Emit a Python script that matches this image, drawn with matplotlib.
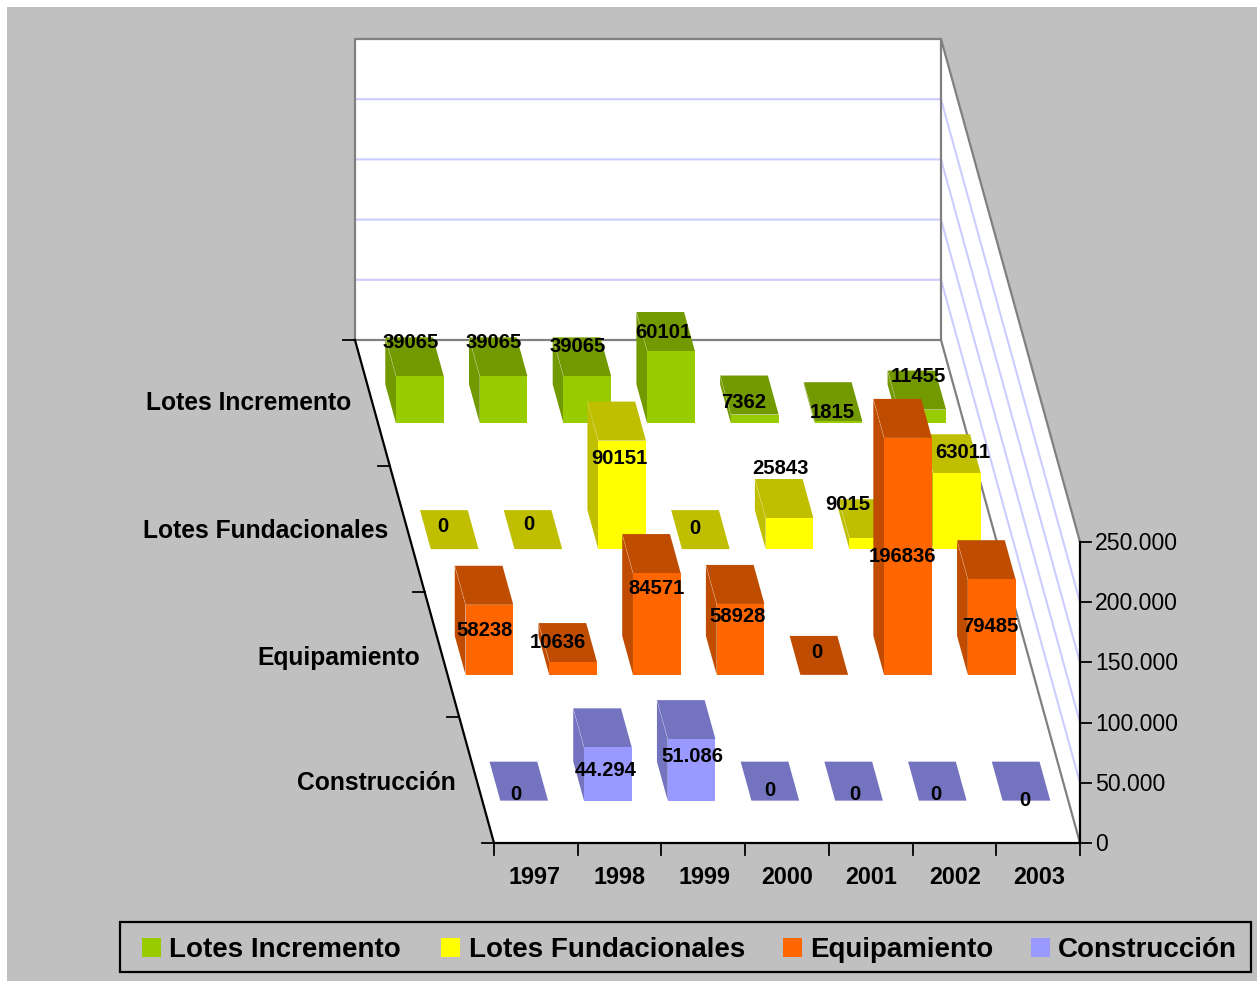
"""Oblique 3D column chart: inversion by year and concept."""
import matplotlib
matplotlib.use("Agg")
import matplotlib.pyplot as plt
from matplotlib.patches import Polygon, Rectangle

YEARS = ["1997", "1998", "1999", "2000", "2001", "2002", "2003"]
SERIES = ["Lotes Incremento", "Lotes Fundacionales", "Equipamiento", "Construcción"]

lotes_incremento = [39065, 39065, 39065, 60101, 7362, 1815, 11455]
lotes_fundacionales = [0, 0, 90151, 0, 25843, 9015, 63011]
equipamiento = [58238, 10636, 84571, 58928, 0, 196836, 79485]
construccion = [0, 44294, 51086, 0, 0, 0, 0]
VALUES = [lotes_incremento, lotes_fundacionales, equipamiento, construccion]

# text of the value labels, as printed on the chart
LABELS = [
    ["39065", "39065", "39065", "60101", "7362", "1815", "11455"],
    ["0", "0", "90151", "0", "25843", "9015", "63011"],
    ["58238", "10636", "84571", "58928", "0", "196836", "79485"],
    ["0", "44.294", "51.086", "0", "0", "0", "0"],
]
VALUE_TICKS = [0, 50000, 100000, 150000, 200000, 250000]
VALUE_TICK_LABELS = ["0", "50.000", "100.000", "150.000", "200.000", "250.000"]

FRONT = ["#99CC00", "#FFFF00", "#FF6600", "#9999FF"]
DARK = ["#739900", "#BFBF00", "#BF4C00", "#7373BF"]

# layout, in image pixels
BG = "#C0C0C0"
BACK_LEFT = 355.0
FLOOR_BACK = 340.0
FLOOR_W = 586.0
DEPTH_DX = 139.0
DEPTH_DY = 503.0
PX_PER_UNIT = 301.0 / 250000
BAR_FRAC = 0.57
BAR_DEPTH = 0.0775

# hand-placed value labels in the original chart (centres)
LABEL_POS = [
    [(411, 341), (494, 341), (578, 345), (663, 330), (744, 401), (832, 410), (918, 375)],
    [(443, 525), (529, 523), (619, 456), (695, 527), (780, 467), (848, 502), (963, 450)],
    [(485, 628), (558, 640), (657, 586), (738, 615), (817, 651), (902, 555), (990, 624)],
    [(516, 792), (606, 768), (692, 754), (770, 788), (855, 792), (936, 792), (1025, 799)],
]
ROW_LABEL_POS = [(351, 401), (388, 529), (420, 655), (456, 781)]
YEAR_LABEL_POS = [535, 620, 704, 787, 871, 955, 1039]
LEGEND_POS = [(142, 169), (441, 469), (783, 810), (1031, 1058)]

plt.rcParams["font.family"] = ["Liberation Sans", "DejaVu Sans"]


def project(col, depth, value=0.0):
    """col in category units, depth 0 (back) to 1 (front), value in data units."""
    x = BACK_LEFT + FLOOR_W * col / len(YEARS) + DEPTH_DX * depth
    y = FLOOR_BACK + DEPTH_DY * depth - value * PX_PER_UNIT
    return x, y


def draw_bar(ax, col, row, value, front, dark):
    x0 = col + 0.5 - BAR_FRAC / 2
    x1 = col + 0.5 + BAR_FRAC / 2
    centre = (row + 0.5) / len(SERIES)
    d0 = centre - BAR_DEPTH / 2 + 0.002
    d1 = centre + BAR_DEPTH / 2 + 0.002
    top = [project(x0, d0, value), project(x1, d0, value),
           project(x1, d1, value), project(x0, d1, value)]
    ax.add_patch(Polygon(top, closed=True, fc=dark, ec="none", zorder=5))
    if value > 0:
        side = [project(x0, d0, 0), project(x0, d1, 0),
                project(x0, d1, value), project(x0, d0, value)]
        face = [project(x0, d1, 0), project(x1, d1, 0),
                project(x1, d1, value), project(x0, d1, value)]
        ax.add_patch(Polygon(side, closed=True, fc=dark, ec="none", zorder=5))
        ax.add_patch(Polygon(face, closed=True, fc=front, ec="none", zorder=5))
        # faint seam between side and top
        (xa, ya), (xb, yb) = project(x0, d0, value), project(x0, d1, value)
        ax.plot([xa, xb], [ya, yb], color="white", alpha=0.3, lw=0.5, zorder=5)


def main() -> None:
    fig = plt.figure(figsize=(12.57, 9.81), dpi=100, facecolor="white")
    ax = fig.add_axes([0, 0, 1, 1])
    ax.set_xlim(0, 1257)
    ax.set_ylim(981, 0)
    ax.axis("off")

    ax.add_patch(Rectangle((7, 7), 1250, 974, fc=BG, ec="none", zorder=0))

    vmax = VALUE_TICKS[-1]
    ncol = len(YEARS)
    # walls and floor
    back = [project(0, 0, 0), project(ncol, 0, 0), project(ncol, 0, vmax), project(0, 0, vmax)]
    right = [project(ncol, 0, 0), project(ncol, 1, 0), project(ncol, 1, vmax), project(ncol, 0, vmax)]
    floor = [project(0, 0, 0), project(ncol, 0, 0), project(ncol, 1, 0), project(0, 1, 0)]
    for poly in (back, right, floor):
        ax.add_patch(Polygon(poly, closed=True, fc="white", ec="none", zorder=1))

    for v in VALUE_TICKS[1:-1]:
        pts = [project(0, 0, v), project(ncol, 0, v), project(ncol, 1, v)]
        ax.plot(*zip(*pts), color="#CCCCFF", lw=1.5, zorder=2)

    grey = "#808080"
    pts = [project(0, 0, 0), project(0, 0, vmax), project(ncol, 0, vmax),
           project(ncol, 1, vmax)]
    ax.plot(*zip(*pts), color=grey, lw=1.6, zorder=3)
    pts = [project(0, 0, 0), project(ncol, 0, 0), project(ncol, 1, 0)]
    ax.plot(*zip(*pts), color=grey, lw=1.6, zorder=3)
    pts = [project(ncol, 0, 0), project(ncol, 0, vmax)]
    ax.plot(*zip(*pts), color=grey, lw=1.6, zorder=3)

    # axis lines and ticks
    tick = 12
    pts = [project(0, 0, 0), project(0, 1, 0), project(ncol, 1, 0), project(ncol, 1, vmax)]
    ax.plot(*zip(*pts), color="black", lw=1.6, zorder=4, solid_joinstyle="miter")
    for i in range(ncol + 1):
        x, y = project(i, 1, 0)
        ax.plot([x, x], [y, y + tick], color="black", lw=1.3, zorder=4)
    for i in range(len(SERIES) + 1):
        x, y = project(0, i / len(SERIES), 0)
        ax.plot([x - tick, x], [y, y], color="black", lw=1.3, zorder=4)
    for v, lab in zip(VALUE_TICKS, VALUE_TICK_LABELS):
        x, y = project(ncol, 1, v)
        ax.plot([x, x + tick - 1], [y, y], color="black", lw=1.3, zorder=4)
        ax.text(x + 15, y - 1, lab, fontsize=16.6, ha="left", va="center_baseline", zorder=8)

    # back row first so nearer bars cover it
    for row, vals in enumerate(VALUES):
        for col, v in enumerate(vals):
            draw_bar(ax, col, row, v, FRONT[row], DARK[row])

    for row, labs in enumerate(LABELS):
        for lab, (x, y) in zip(labs, LABEL_POS[row]):
            ax.text(x, y, lab, fontsize=14.6, fontweight="bold", ha="center",
                    va="center_baseline", zorder=9)

    for name, (x, y) in zip(SERIES, ROW_LABEL_POS):
        ax.text(x, y, name, fontsize=17.7, fontweight="bold", ha="right",
                va="center_baseline", zorder=8)
    for year, x in zip(YEARS, YEAR_LABEL_POS):
        ax.text(x, 875, year, fontsize=16.8, fontweight="bold", ha="center",
                va="center_baseline", zorder=8)

    # legend box
    ax.add_patch(Rectangle((120, 922), 1131, 50, fc="none", ec="black", lw=1.6, zorder=8))
    for i, name in enumerate(SERIES):
        sx, tx = LEGEND_POS[i]
        ax.add_patch(Rectangle((sx, 938), 19, 19, fc=FRONT[i], ec="none", zorder=8))
        ax.text(tx, 947, name, fontsize=20, fontweight="bold", ha="left",
                va="center_baseline", zorder=8)

    fig.savefig("out.png", dpi=100, facecolor=fig.get_facecolor())


if __name__ == "__main__":
    main()
